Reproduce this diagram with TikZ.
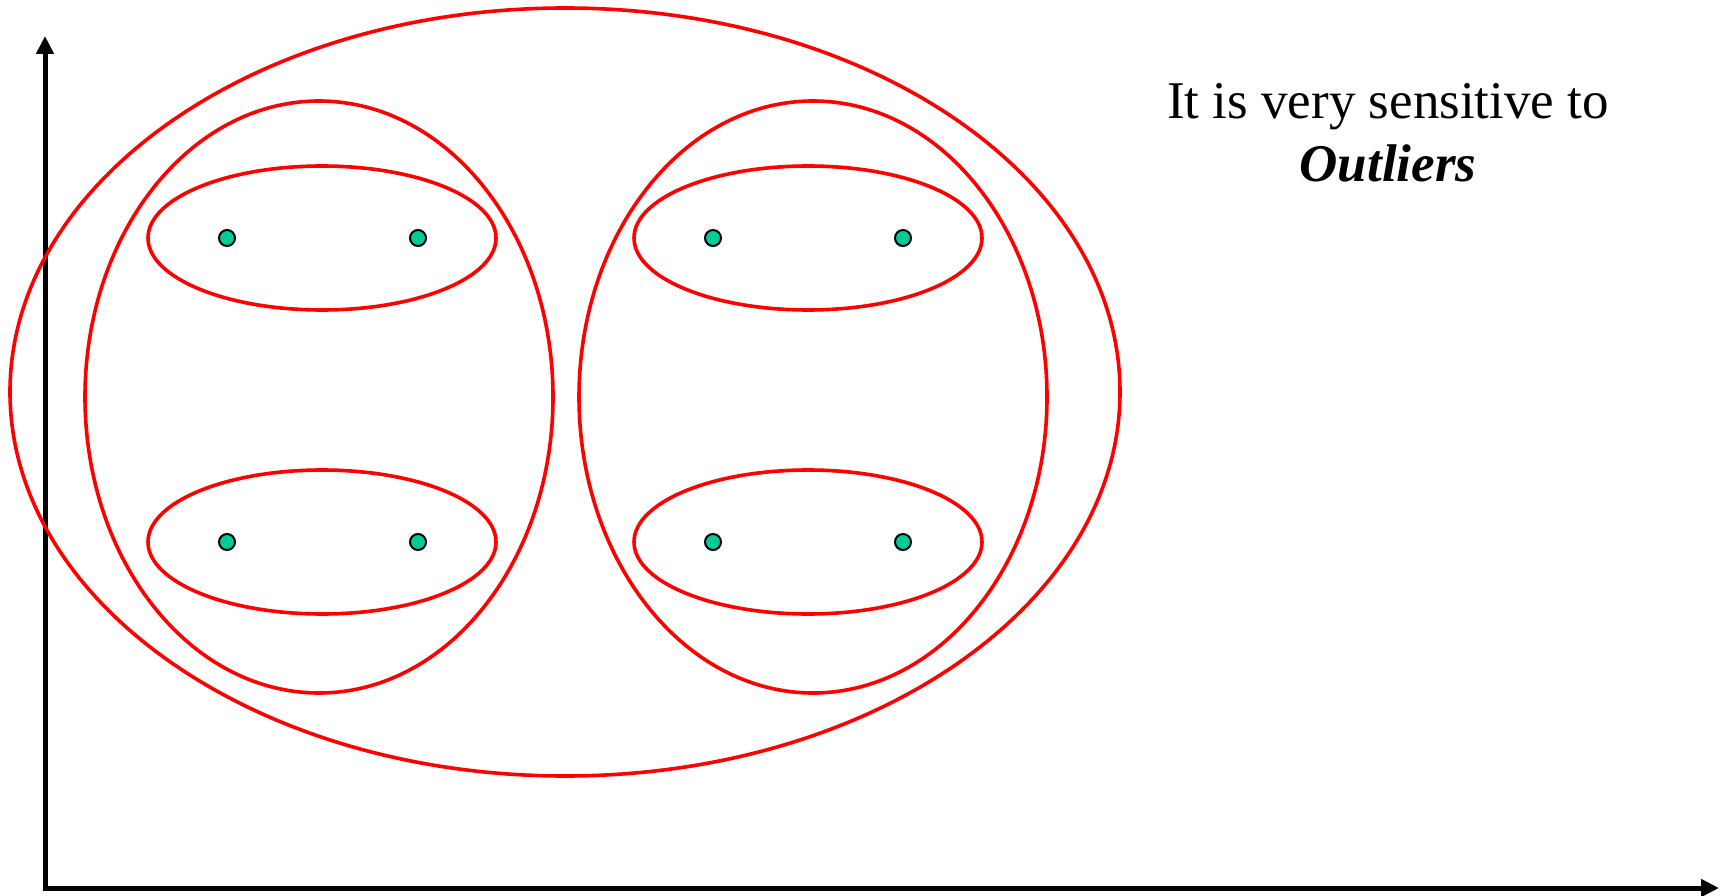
\documentclass[tikz,border=0pt]{standalone}
\usepackage{fontspec}
\setmainfont{Liberation Serif}
\usetikzlibrary{shapes.geometric,arrows.meta}
\definecolor{dotgreen}{RGB}{0,204,153}

\begin{document}
\begin{tikzpicture}[x=1pt,y=-1pt,
  cluster/.style={draw=red,line width=3.6pt,ellipse,inner sep=0pt},
  pointdot/.style={circle,draw=black,line width=2pt,fill=dotgreen,inner sep=0pt,minimum size=16pt},
  axis/.style={line width=5pt,-{Triangle[length=18pt,width=17pt]}}]
\useasboundingbox (0,0) rectangle (1721,896);
% axes
\coordinate (origin) at (45,888);
\coordinate (ytop) at (45,36);
\coordinate (xend) at (1719,888);
\draw[axis] ([yshift=2.5pt]origin) -- (ytop);
\draw[axis] ([xshift=-2.5pt]origin) -- (xend);
% clusters
\node[cluster,minimum width=1110pt,minimum height=768pt] (all) at (565,392) {};
\node[cluster,minimum width=468pt,minimum height=592pt] (left) at (319,397) {};
\node[cluster,minimum width=468pt,minimum height=592pt] (right) at (813,397) {};
\node[cluster,minimum width=348pt,minimum height=144pt] (lt) at (322,238) {};
\node[cluster,minimum width=348pt,minimum height=144pt] (lb) at (322,542) {};
\node[cluster,minimum width=348pt,minimum height=144pt] (rt) at (808,238) {};
\node[cluster,minimum width=348pt,minimum height=144pt] (rb) at (808,542) {};
% points
\node[pointdot] (p1) at (227,238) {};
\node[pointdot] (p2) at (418,238) {};
\node[pointdot] (p3) at (713,238) {};
\node[pointdot] (p4) at (903,238) {};
\node[pointdot] (p5) at (227,542) {};
\node[pointdot] (p6) at (418,542) {};
\node[pointdot] (p7) at (713,542) {};
\node[pointdot] (p8) at (903,542) {};
% note
\node[align=center,font=\fontsize{53}{63}\selectfont] (note) at (1388,133)
  {It is very sensitive to\\ \textbf{\textit{Outliers}}};
\end{tikzpicture}
\end{document}
